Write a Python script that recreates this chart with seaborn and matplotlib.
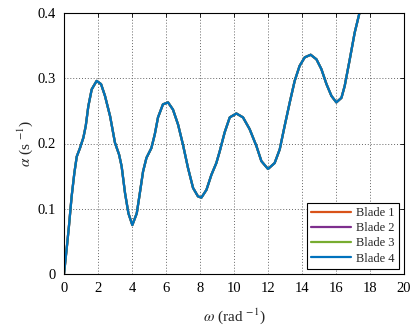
import numpy as np
import pandas as pd
import matplotlib
matplotlib.use("Agg")
import matplotlib.pyplot as plt
import seaborn as sns

# ── Data (the four blades overlap) ─────────────────────────────
omega = [0.0, 0.19, 0.29, 0.45, 0.61, 0.75, 0.94, 1.14, 1.28, 1.43, 1.63,
         1.92, 2.18, 2.41, 2.71, 3.0, 3.24, 3.39, 3.59, 3.79, 4.02, 4.28,
         4.45, 4.65, 4.85, 5.14, 5.34, 5.53, 5.82, 6.12, 6.41, 6.71, 7.0,
         7.29, 7.59, 7.88, 8.08, 8.38, 8.67, 8.96, 9.16, 9.45, 9.75, 10.14,
         10.53, 10.92, 11.32, 11.61, 12.0, 12.39, 12.69, 12.98, 13.28,
         13.57, 13.86, 14.16, 14.51, 14.85, 15.14, 15.44, 15.73, 16.02,
         16.32, 16.51, 16.81, 17.1, 17.39, 17.6]
alpha = [0.0, 0.047, 0.073, 0.119, 0.155, 0.18, 0.193, 0.209, 0.227, 0.257,
         0.283, 0.296, 0.291, 0.273, 0.242, 0.201, 0.183, 0.165, 0.124,
         0.093, 0.075, 0.093, 0.122, 0.157, 0.178, 0.193, 0.214, 0.24, 0.26,
         0.263, 0.252, 0.229, 0.198, 0.163, 0.132, 0.119, 0.117, 0.129,
         0.152, 0.17, 0.188, 0.217, 0.24, 0.246, 0.24, 0.222, 0.196, 0.173,
         0.161, 0.17, 0.191, 0.227, 0.263, 0.296, 0.319, 0.332, 0.336,
         0.329, 0.314, 0.291, 0.273, 0.263, 0.27, 0.288, 0.329, 0.37, 0.401,
         0.43]
blades = ["Blade 1", "Blade 2", "Blade 3", "Blade 4"]
colors = ["#D95319", "#7E2F8E", "#77AC30", "#0072BD"]
x_ticks = [0, 2, 4, 6, 8, 10, 12, 14, 16, 18, 20]
y_ticks = [0, 0.1, 0.2, 0.3, 0.4]
y_labels = ["0", "0.1", "0.2", "0.3", "0.4"]

df = pd.concat([pd.DataFrame({"omega": omega, "alpha": alpha, "blade": b})
                for b in blades], ignore_index=True)

# ── Style ─────────────────────────────────────────────────────
sns.set_style("white")
plt.rcParams["font.family"] = ["Liberation Serif", "DejaVu Serif"]
plt.rcParams["mathtext.fontset"] = "stix"

fig = plt.figure(figsize=(4.12, 3.29), dpi=100)
ax = fig.add_axes([64 / 412, 55 / 329, 340 / 412, 261 / 329])

sns.lineplot(data=df, x="omega", y="alpha", hue="blade", palette=colors,
             hue_order=blades, estimator=None, sort=False, lw=1.6, ax=ax,
             solid_joinstyle="round", solid_capstyle="round")

ax.set_xlim(0, 20)
ax.set_ylim(0, 0.4)
ax.set_xticks(x_ticks)
ax.set_yticks(y_ticks)
ax.set_yticklabels(y_labels)
ax.tick_params(direction="in", length=3, width=0.6, top=True, right=True,
               labelsize=10.5, colors="black", pad=6)
ax.grid(True, linestyle=(0, (1, 2)), color="0.4", linewidth=0.7)
for s in ax.spines.values():
    s.set_color("black")
    s.set_linewidth(0.8)

ax.set_xlabel(r"$\omega$ (rad $^{-1}$)", fontsize=11, labelpad=8)
ax.set_ylabel(r"$\alpha$ (s $^{-1}$)", fontsize=11, labelpad=2)

leg = ax.legend(loc="lower right", fontsize=9, frameon=True, fancybox=False,
                edgecolor="black", framealpha=1, borderpad=0.35,
                labelspacing=0.25, handlelength=3.2, handletextpad=0.4,
                borderaxespad=0.4)
leg.get_frame().set_linewidth(0.8)

fig.savefig("out.png", dpi=100)
